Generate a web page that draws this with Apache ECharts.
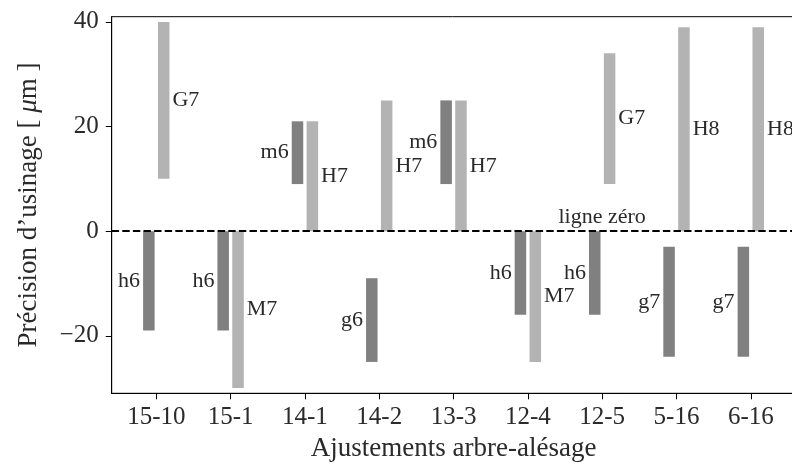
<!DOCTYPE html>
<html>
<head>
<meta charset="utf-8">
<script src="https://cdn.jsdelivr.net/npm/echarts@6/dist/echarts.min.js"></script>
<style>html,body{margin:0;padding:0;background:#fff}#c{width:792px;height:464px}</style>
</head>
<body>
<div id="c"></div>
<script>
const categories = ['15-10','15-1','14-1','14-2','13-3','12-4','12-5','5-16','6-16'];
const shaftNames = ['h6','h6','m6','g6','m6','h6','h6','g7','g7'];
const shaftLow   = [-19,-19, 9,-25, 9,-16,-16,-24,-24];
const shaftHigh  = [  0,  0,21, -9,25,  0,  0, -3, -3];
const holeNames  = ['G7','M7','H7','H7','H7','M7','G7','H8','H8'];
const holeLow    = [10,-30, 0, 0, 0,-25, 9, 0, 0];
const holeHigh   = [40,  0,21,25,25,  0,34,39,39];
const yTicks = [-20, 0, 20, 40];
const zeroLabel = 'ligne zéro';
const zeroLabelCat = 6;

const FONT = 'Liberation Serif';
const TXT = '#2a2a2a';
const DARK = '#808080', LIGHT = '#b3b3b3';
const OFFSET = 0.1, BW = 0.155;

function barRenderer(names, offset, color, side) {
  return function (params, api) {
    const x = api.value(0), lo = api.value(1), hi = api.value(2);
    const a = api.coord([x + offset - BW / 2, hi]);
    const b = api.coord([x + offset + BW / 2, lo]);
    const midY = (a[1] + b[1]) / 2;
    return {
      type: 'group',
      children: [
        { type: 'rect', shape: { x: a[0], y: a[1], width: b[0] - a[0], height: b[1] - a[1] },
          style: { fill: color } },
        { type: 'text', x: side < 0 ? a[0] - 3 : b[0] + 3, y: midY,
          style: { text: names[params.dataIndex], fill: TXT, font: '22px "' + FONT + '"',
                   align: side < 0 ? 'right' : 'left', verticalAlign: 'middle' } }
      ]
    };
  };
}

const chart = echarts.init(document.getElementById('c'), null, { renderer: 'canvas' });
chart.setOption({
  animation: false,
  grid: { left: 111.7, top: 16.7, bottom: 70.7, right: -3.4, show: true,
          borderColor: '#000', borderWidth: 1, containLabel: false, outerBoundsMode: 'none' },
  xAxis: {
    type: 'value', min: -0.6, max: 8.6,
    axisLine: { show: true, onZero: false, lineStyle: { color: '#000', width: 1 } },
    splitLine: { show: false },
    axisTick: { show: true, length: 6, customValues: categories.map((c, i) => i), lineStyle: { color: '#000' } },
    axisLabel: { customValues: categories.map((c, i) => i), formatter: v => categories[Math.round(v)],
                 fontFamily: FONT, fontSize: 25, color: TXT, margin: 12 },
    name: 'Ajustements arbre-alésage', nameLocation: 'middle', nameGap: 42,
    nameTextStyle: { fontFamily: FONT, fontSize: 27, color: TXT }
  },
  yAxis: {
    type: 'value', min: -31, max: 41,
    axisLine: { show: true, onZero: false, lineStyle: { color: '#000', width: 1 } },
    splitLine: { show: false },
    axisTick: { show: true, length: 6, customValues: yTicks, lineStyle: { color: '#000' } },
    axisLabel: { customValues: yTicks, formatter: v => v < 0 ? '\u2212' + Math.abs(v) : String(v),
                 fontFamily: FONT, fontSize: 25, color: TXT, margin: 13 },
    name: '{n|Précision d\u2019usinage [ }{i|\u03bc}{n|m ]}', nameLocation: 'middle', nameGap: 69,
    nameTextStyle: { fontFamily: FONT, fontSize: 27, color: TXT,
      rich: { n: { fontFamily: FONT, fontSize: 27, color: TXT },
              i: { fontFamily: FONT, fontSize: 27, color: TXT, fontStyle: 'italic' } } }
  },
  series: [
    { type: 'custom', name: 'arbre', renderItem: barRenderer(shaftNames, -OFFSET, DARK, -1),
      data: categories.map((c, i) => [i, shaftLow[i], shaftHigh[i]]), z: 2 },
    { type: 'custom', name: 'alésage', renderItem: barRenderer(holeNames, OFFSET, LIGHT, 1),
      data: categories.map((c, i) => [i, holeLow[i], holeHigh[i]]), z: 2,
      markLine: { silent: true, symbol: 'none', label: { show: false },
        lineStyle: { type: [7.4, 3.2], color: '#000', width: 2 }, data: [{ yAxis: 0 }], z: 5 } },
    { type: 'custom', name: 'zero', z: 3,
      renderItem: function (params, api) {
        const p = api.coord([api.value(0), api.value(1)]);
        return { type: 'text', x: p[0], y: p[1] - 3,
                 style: { text: zeroLabel, fill: TXT, font: '22px "' + FONT + '"', align: 'center', verticalAlign: 'bottom' } };
      },
      data: [[zeroLabelCat, 0]] }
  ]
});
</script>
</body>
</html>
